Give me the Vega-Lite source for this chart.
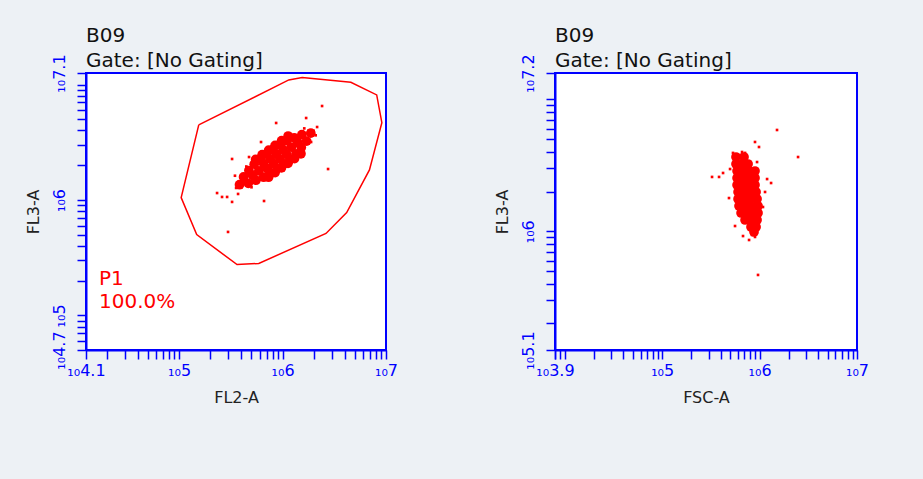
{
  "$schema": "https://vega.github.io/schema/vega-lite/v6.json",
  "background": "#edf1f5",
  "padding": {"left": 23, "top": 24, "right": 60, "bottom": 80},
  "spacing": 93,
  "config": {
    "view": {"stroke": "#0000ff", "strokeWidth": 2, "fill": "white"},
    "axis": {
      "grid": false,
      "domainColor": "#0000ff",
      "domainWidth": 2,
      "tickColor": "#0000ff",
      "tickWidth": 1.5,
      "tickSize": 9,
      "labelColor": "#0000ff",
      "labelFont": "DejaVu Sans",
      "labelFontSize": 16,
      "labelOverlap": false,
      "labelBound": false,
      "labelFlush": false,
      "titleFont": "DejaVu Sans",
      "titleFontSize": 16,
      "titleFontWeight": "normal",
      "titleColor": "#222222"
    },
    "axisX": {"labelPadding": 3, "titlePadding": 11},
    "axisY": {"labelAngle": 270, "labelAlign": "center", "labelBaseline": "bottom", "labelPadding": 10, "titlePadding": 10},
    "title": {"anchor": "start", "frame": "group", "font": "DejaVu Sans", "fontSize": 20, "fontWeight": "normal", "color": "#111111", "offset": -17, "lineHeight": 25}
  },
  "datasets": {
    "gateP1": [
      {"vertex": 1, "fl2a": 5.19, "fl3a": 6.65},
      {"vertex": 2, "fl2a": 6.06, "fl3a": 7.04},
      {"vertex": 3, "fl2a": 6.19, "fl3a": 7.06},
      {"vertex": 4, "fl2a": 6.66, "fl3a": 7.02},
      {"vertex": 5, "fl2a": 6.91, "fl3a": 6.91},
      {"vertex": 6, "fl2a": 6.96, "fl3a": 6.67},
      {"vertex": 7, "fl2a": 6.84, "fl3a": 6.26},
      {"vertex": 8, "fl2a": 6.62, "fl3a": 5.89},
      {"vertex": 9, "fl2a": 6.42, "fl3a": 5.71},
      {"vertex": 10, "fl2a": 5.77, "fl3a": 5.45},
      {"vertex": 11, "fl2a": 5.56, "fl3a": 5.44},
      {"vertex": 12, "fl2a": 5.17, "fl3a": 5.70},
      {"vertex": 13, "fl2a": 5.02, "fl3a": 6.02},
      {"vertex": 14, "fl2a": 5.19, "fl3a": 6.65}
    ],
    "gateLabel": [
      {"label": "P1", "fl2a": 4.226, "fl3a": 5.263},
      {"label": "100.0%", "fl2a": 4.226, "fl3a": 5.064}
    ],
    "p1core": [
      {"fl2a": 5.584, "fl3a": 6.132},
      {"fl2a": 5.623, "fl3a": 6.200},
      {"fl2a": 5.669, "fl3a": 6.144},
      {"fl2a": 5.675, "fl3a": 6.255},
      {"fl2a": 5.709, "fl3a": 6.213},
      {"fl2a": 5.743, "fl3a": 6.171},
      {"fl2a": 5.726, "fl3a": 6.310},
      {"fl2a": 5.771, "fl3a": 6.253},
      {"fl2a": 5.817, "fl3a": 6.197},
      {"fl2a": 5.783, "fl3a": 6.357},
      {"fl2a": 5.817, "fl3a": 6.315},
      {"fl2a": 5.851, "fl3a": 6.273},
      {"fl2a": 5.885, "fl3a": 6.231},
      {"fl2a": 5.846, "fl3a": 6.398},
      {"fl2a": 5.880, "fl3a": 6.356},
      {"fl2a": 5.914, "fl3a": 6.314},
      {"fl2a": 5.948, "fl3a": 6.272},
      {"fl2a": 5.908, "fl3a": 6.438},
      {"fl2a": 5.942, "fl3a": 6.396},
      {"fl2a": 5.976, "fl3a": 6.354},
      {"fl2a": 6.010, "fl3a": 6.312},
      {"fl2a": 5.971, "fl3a": 6.479},
      {"fl2a": 6.005, "fl3a": 6.437},
      {"fl2a": 6.039, "fl3a": 6.395},
      {"fl2a": 6.073, "fl3a": 6.353},
      {"fl2a": 6.039, "fl3a": 6.513},
      {"fl2a": 6.085, "fl3a": 6.457},
      {"fl2a": 6.130, "fl3a": 6.400},
      {"fl2a": 6.113, "fl3a": 6.539},
      {"fl2a": 6.147, "fl3a": 6.497},
      {"fl2a": 6.181, "fl3a": 6.455},
      {"fl2a": 6.187, "fl3a": 6.566},
      {"fl2a": 6.233, "fl3a": 6.510},
      {"fl2a": 6.273, "fl3a": 6.579},
      {"fl2a": 5.740, "fl3a": 6.351},
      {"fl2a": 5.865, "fl3a": 6.197},
      {"fl2a": 5.803, "fl3a": 6.392},
      {"fl2a": 5.928, "fl3a": 6.237},
      {"fl2a": 5.866, "fl3a": 6.432},
      {"fl2a": 5.990, "fl3a": 6.278},
      {"fl2a": 5.928, "fl3a": 6.473},
      {"fl2a": 6.053, "fl3a": 6.318},
      {"fl2a": 5.991, "fl3a": 6.514},
      {"fl2a": 6.116, "fl3a": 6.359},
      {"fl2a": 6.054, "fl3a": 6.554},
      {"fl2a": 6.178, "fl3a": 6.400}
    ],
    "p1events": [
      {"fl2a": 6.382, "fl3a": 6.814},
      {"fl2a": 5.938, "fl3a": 6.667},
      {"fl2a": 6.228, "fl3a": 6.710},
      {"fl2a": 6.334, "fl3a": 6.632},
      {"fl2a": 6.276, "fl3a": 6.502},
      {"fl2a": 6.440, "fl3a": 6.268},
      {"fl2a": 5.512, "fl3a": 6.355},
      {"fl2a": 5.676, "fl3a": 6.372},
      {"fl2a": 5.367, "fl3a": 6.060},
      {"fl2a": 5.415, "fl3a": 6.026},
      {"fl2a": 5.464, "fl3a": 6.026},
      {"fl2a": 5.512, "fl3a": 5.983},
      {"fl2a": 5.821, "fl3a": 5.991},
      {"fl2a": 5.473, "fl3a": 5.723},
      {"fl2a": 5.551, "fl3a": 6.104},
      {"fl2a": 5.792, "fl3a": 6.502},
      {"fl2a": 6.286, "fl3a": 6.580},
      {"fl2a": 6.189, "fl3a": 6.450},
      {"fl2a": 5.570, "fl3a": 6.052},
      {"fl2a": 5.618, "fl3a": 6.156},
      {"fl2a": 6.160, "fl3a": 6.546},
      {"fl2a": 6.250, "fl3a": 6.600},
      {"fl2a": 6.230, "fl3a": 6.530},
      {"fl2a": 5.540, "fl3a": 6.210},
      {"fl2a": 5.600, "fl3a": 6.120},
      {"fl2a": 6.320, "fl3a": 6.560},
      {"fl2a": 5.650, "fl3a": 6.290},
      {"fl2a": 5.700, "fl3a": 6.110},
      {"fl2a": 6.210, "fl3a": 6.620},
      {"fl2a": 6.300, "fl3a": 6.600}
    ],
    "p2core": [
      {"fsca": 5.758, "fl3a": 6.563},
      {"fsca": 5.840, "fl3a": 6.563},
      {"fsca": 5.758, "fl3a": 6.510},
      {"fsca": 5.820, "fl3a": 6.510},
      {"fsca": 5.882, "fl3a": 6.510},
      {"fsca": 5.769, "fl3a": 6.457},
      {"fsca": 5.830, "fl3a": 6.457},
      {"fsca": 5.892, "fl3a": 6.457},
      {"fsca": 5.953, "fl3a": 6.457},
      {"fsca": 5.769, "fl3a": 6.404},
      {"fsca": 5.830, "fl3a": 6.404},
      {"fsca": 5.892, "fl3a": 6.404},
      {"fsca": 5.953, "fl3a": 6.404},
      {"fsca": 5.769, "fl3a": 6.351},
      {"fsca": 5.830, "fl3a": 6.351},
      {"fsca": 5.892, "fl3a": 6.351},
      {"fsca": 5.953, "fl3a": 6.351},
      {"fsca": 5.779, "fl3a": 6.298},
      {"fsca": 5.840, "fl3a": 6.298},
      {"fsca": 5.902, "fl3a": 6.298},
      {"fsca": 5.964, "fl3a": 6.298},
      {"fsca": 5.779, "fl3a": 6.245},
      {"fsca": 5.840, "fl3a": 6.245},
      {"fsca": 5.902, "fl3a": 6.245},
      {"fsca": 5.974, "fl3a": 6.245},
      {"fsca": 5.789, "fl3a": 6.192},
      {"fsca": 5.851, "fl3a": 6.192},
      {"fsca": 5.912, "fl3a": 6.192},
      {"fsca": 5.984, "fl3a": 6.192},
      {"fsca": 5.810, "fl3a": 6.139},
      {"fsca": 5.871, "fl3a": 6.139},
      {"fsca": 5.933, "fl3a": 6.139},
      {"fsca": 5.984, "fl3a": 6.139},
      {"fsca": 5.851, "fl3a": 6.086},
      {"fsca": 5.912, "fl3a": 6.086},
      {"fsca": 5.974, "fl3a": 6.086},
      {"fsca": 5.912, "fl3a": 6.033},
      {"fsca": 5.964, "fl3a": 6.033},
      {"fsca": 5.943, "fl3a": 5.995}
    ],
    "p2events": [
      {"fsca": 6.179, "fl3a": 6.768},
      {"fsca": 5.953, "fl3a": 6.677},
      {"fsca": 5.994, "fl3a": 6.639},
      {"fsca": 6.395, "fl3a": 6.563},
      {"fsca": 5.512, "fl3a": 6.412},
      {"fsca": 5.584, "fl3a": 6.412},
      {"fsca": 5.625, "fl3a": 6.442},
      {"fsca": 5.697, "fl3a": 6.472},
      {"fsca": 5.727, "fl3a": 6.594},
      {"fsca": 5.820, "fl3a": 6.601},
      {"fsca": 5.851, "fl3a": 6.594},
      {"fsca": 5.974, "fl3a": 6.525},
      {"fsca": 6.077, "fl3a": 6.396},
      {"fsca": 6.118, "fl3a": 6.366},
      {"fsca": 5.686, "fl3a": 6.252},
      {"fsca": 5.748, "fl3a": 6.040},
      {"fsca": 5.830, "fl3a": 5.964},
      {"fsca": 5.923, "fl3a": 5.972},
      {"fsca": 5.892, "fl3a": 5.934},
      {"fsca": 5.953, "fl3a": 5.957},
      {"fsca": 5.984, "fl3a": 5.669},
      {"fsca": 6.035, "fl3a": 6.184},
      {"fsca": 6.056, "fl3a": 6.298}
    ]
  },
  "hconcat": [
    {
      "width": 300,
      "height": 277,
      "title": {"text": ["B09", "Gate: [No Gating]"]},
      "encoding": {
        "x": {
          "field": "fl2a",
          "type": "quantitative",
          "scale": {"domain": [4.1, 7], "nice": false, "zero": false},
          "axis": {
            "title": "FL2-A",
            "values": [4.1, 4.30103, 4.47712, 4.60206, 4.69897, 4.77815, 4.8451, 4.90309, 4.95424, 5, 5.30103, 5.47712, 5.60206, 5.69897, 5.77815, 5.8451, 5.90309, 5.95424, 6, 6.30103, 6.47712, 6.60206, 6.69897, 6.77815, 6.8451, 6.90309, 6.95424, 7],
            "labelExpr": "indexof([4.1, 5, 6, 7], datum.value) >= 0 ? '₁₀' + datum.value : ''"
          }
        },
        "y": {
          "field": "fl3a",
          "type": "quantitative",
          "scale": {"domain": [4.7, 7.1], "nice": false, "zero": false},
          "axis": {
            "title": "FL3-A",
            "values": [4.7, 4.77815, 4.8451, 4.90309, 4.95424, 5, 5.30103, 5.47712, 5.60206, 5.69897, 5.77815, 5.8451, 5.90309, 5.95424, 6, 6.30103, 6.47712, 6.60206, 6.69897, 6.77815, 6.8451, 6.90309, 6.95424, 7, 7.1],
            "labelExpr": "indexof([4.7, 5, 6, 7.1], datum.value) >= 0 ? '₁₀' + datum.value : ''"
          }
        }
      },
      "layer": [
        {
          "data": {"name": "gateP1"},
          "mark": {"type": "line", "color": "#ff0000", "strokeWidth": 1.5},
          "encoding": {"order": {"field": "vertex", "type": "quantitative"}}
        },
        {
          "data": {"name": "p1core"},
          "mark": {"type": "circle", "color": "#ff0000", "opacity": 1, "size": 95}
        },
        {
          "data": {"name": "p1events"},
          "mark": {"type": "square", "color": "#ff0000", "opacity": 1, "size": 7}
        },
        {
          "data": {"name": "gateLabel"},
          "mark": {"type": "text", "color": "#ff0000", "align": "left", "baseline": "alphabetic", "font": "DejaVu Sans", "fontSize": 20},
          "encoding": {"text": {"field": "label", "type": "nominal"}}
        }
      ]
    },
    {
      "width": 302,
      "height": 277,
      "title": {"text": ["B09", "Gate: [No Gating]"]},
      "encoding": {
        "x": {
          "field": "fsca",
          "type": "quantitative",
          "scale": {"domain": [3.9, 7], "nice": false, "zero": false},
          "axis": {
            "title": "FSC-A",
            "values": [3.9, 3.90309, 3.95424, 4, 4.30103, 4.47712, 4.60206, 4.69897, 4.77815, 4.8451, 4.90309, 4.95424, 5, 5.30103, 5.47712, 5.60206, 5.69897, 5.77815, 5.8451, 5.90309, 5.95424, 6, 6.30103, 6.47712, 6.60206, 6.69897, 6.77815, 6.8451, 6.90309, 6.95424, 7],
            "labelExpr": "indexof([3.9, 5, 6, 7], datum.value) >= 0 ? '₁₀' + datum.value : ''"
          }
        },
        "y": {
          "field": "fl3a",
          "type": "quantitative",
          "scale": {"domain": [5.1, 7.2], "nice": false, "zero": false},
          "axis": {
            "title": "FL3-A",
            "values": [5.1, 5.30103, 5.47712, 5.60206, 5.69897, 5.77815, 5.8451, 5.90309, 5.95424, 6, 6.30103, 6.47712, 6.60206, 6.69897, 6.77815, 6.8451, 6.90309, 6.95424, 7, 7.2],
            "labelExpr": "indexof([5.1, 6, 7.2], datum.value) >= 0 ? '₁₀' + datum.value : ''"
          }
        }
      },
      "layer": [
        {
          "data": {"name": "p2core"},
          "mark": {"type": "circle", "color": "#ff0000", "opacity": 1, "size": 95}
        },
        {
          "data": {"name": "p2events"},
          "mark": {"type": "square", "color": "#ff0000", "opacity": 1, "size": 7}
        }
      ]
    }
  ]
}
